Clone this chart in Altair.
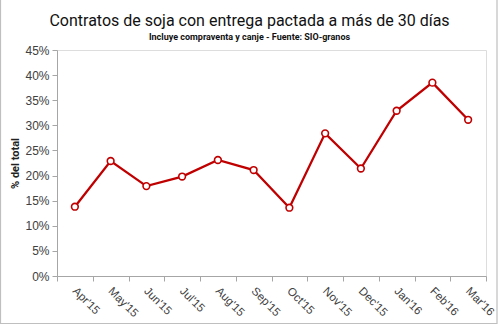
import altair as alt
import pandas as pd

months = ["Apr'15", "May'15", "Jun'15", "Jul'15", "Aug'15", "Sep'15",
          "Oct'15", "Nov'15", "Dec'15", "Jan'16", "Feb'16", "Mar'16"]
values = [0.138, 0.229, 0.179, 0.198, 0.231, 0.211,
          0.136, 0.284, 0.214, 0.329, 0.385, 0.311]

df = pd.DataFrame({"mes": months, "valor": values})

RED = "#C00000"
TFONT = "Roboto"

x = alt.X("mes:N", sort=months, title=None,
          scale=alt.Scale(type="band", paddingInner=0, paddingOuter=0),
          axis=alt.Axis(labelAngle=45, labelAlign="left", labelBaseline="top",
                        labelPadding=4, labelOffset=3, tickBand="extent", tickSize=5,
                        domainColor="#A6A6A6", tickColor="#A6A6A6",
                        labelFont="Liberation Sans", labelFontSize=11.5,
                        labelColor="#404040"))
y = alt.Y("valor:Q", title="% del total",
          scale=alt.Scale(domain=[0, 0.45], nice=False),
          axis=alt.Axis(format=".0%", values=[i * 0.05 for i in range(10)],
                        grid=False, tickSize=5, labelPadding=3,
                        domainColor="#A6A6A6", tickColor="#A6A6A6",
                        labelFont="Liberation Sans", labelFontSize=12,
                        labelColor="#404040", titleFont=TFONT,
                        titleFontSize=11, titleFontWeight="bold",
                        titleColor="#222222", titlePadding=4))

base = alt.Chart(df)
line = base.mark_line(color=RED, strokeWidth=2.3).encode(x=x, y=y)
pts = base.mark_point(shape="circle", filled=True, fill="white", stroke=RED,
                      strokeWidth=1.6, size=45, opacity=1).encode(x=x, y=y)

border = alt.Chart(pd.DataFrame({"a": [0]})).mark_rect(
    fill=None, stroke="#BFBFBF", strokeWidth=1.2
).encode(x=alt.value(-56.5), x2=alt.value(440), y=alt.value(-55),
         y2=alt.value(273.5))

chart = alt.layer(border, line, pts).properties(
    width=429, height=226,
    padding={"left": 57, "top": 50, "right": 13, "bottom": 50},
    autosize=alt.AutoSizeParams(type="none"),
    title=alt.TitleParams(
        "Contratos de soja con entrega pactada a más de 30 días",
        subtitle="Incluye compraventa y canje - Fuente: SIO-granos",
        font=TFONT, fontSize=16, fontWeight="normal", color="#111111",
        subtitleFont=TFONT, subtitleFontSize=9, subtitleFontWeight="bold",
        subtitleColor="#111111",
        frame="group", anchor="middle", dx=-22, dy=54, offset=6,
        subtitlePadding=4),
).configure_view(stroke=None).configure(background="white")

chart.save("out.html", embed_options={"renderer": "svg", "actions": False})
